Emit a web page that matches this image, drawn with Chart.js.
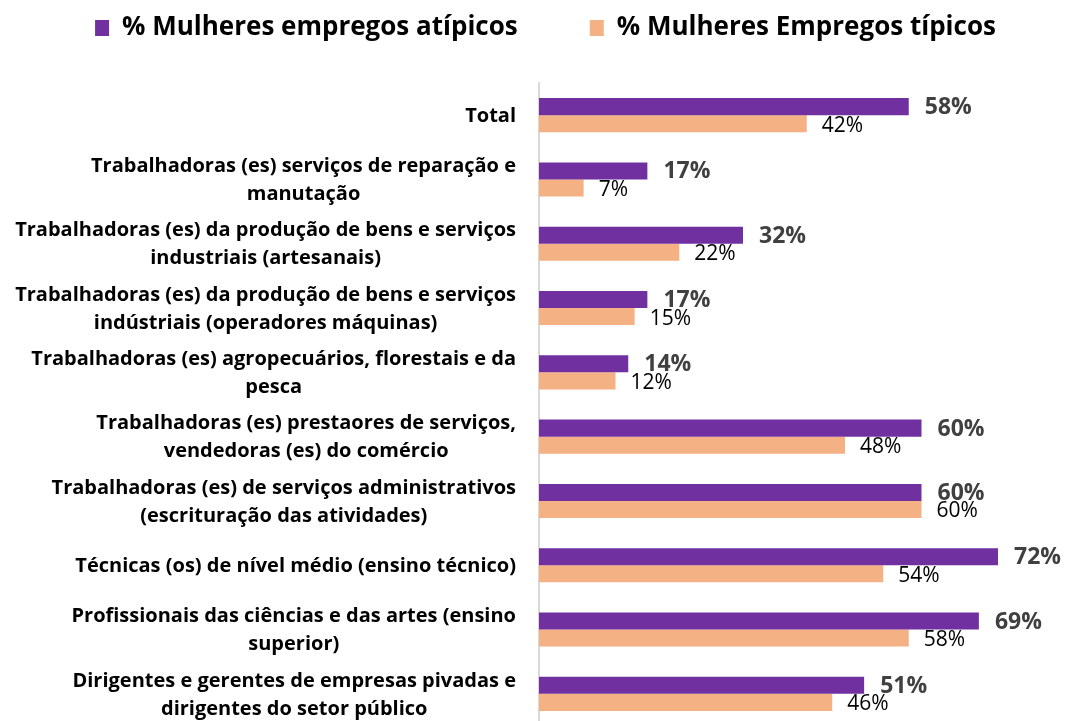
<!DOCTYPE html>
<html lang="pt">
<head>
    <meta charset="UTF-8">
    <title>Mulheres empregos atípicos e típicos</title>
    <script src="https://cdn.jsdelivr.net/npm/chart.js"></script>
    <style>
        html, body { margin: 0; padding: 0; background: #fff; overflow: hidden; }
        #wrap { position: relative; width: 1066px; height: 730px; }
    </style>
</head>
<body>
    <div id="wrap"><canvas id="grafico"></canvas></div>

    <script>
        const categorias = [
            ['Total'],
            ['Trabalhadoras (es) serviços de reparação e', 'manutação'],
            ['Trabalhadoras (es) da produção de bens e serviços', 'industriais (artesanais)'],
            ['Trabalhadoras (es) da produção de bens e serviços', 'indústriais (operadores máquinas)'],
            ['Trabalhadoras (es) agropecuários, florestais e da', 'pesca'],
            ['Trabalhadoras (es) prestaores de serviços,', 'vendedoras (es) do comércio'],
            ['Trabalhadoras (es) de serviços administrativos', '(escrituração das atividades)'],
            ['Técnicas (os) de nível médio (ensino técnico)'],
            ['Profissionais das ciências e das artes (ensino', 'superior)'],
            ['Dirigentes e gerentes de empresas pivadas e', 'dirigentes do setor público']
        ];
        const atipicos = [58, 17, 32, 17, 14, 60, 60, 72, 69, 51];
        const tipicos = [42, 7, 22, 15, 12, 48, 60, 54, 58, 46];

        const fonte = '"Open Sans", sans-serif';

        // espaço extra entre a legenda e as barras, legenda um pouco à direita
        const espacoLegenda = {
            id: 'espacoLegenda',
            beforeInit(chart) {
                const fitOrig = chart.legend.fit;
                chart.legend.fit = function () {
                    fitOrig.call(this);
                    this.height += 32;
                };
            },
            afterLayout(chart) {
                chart.legend.left += 21;
                chart.legend.right += 21;
            }
        };

        // rótulos do eixo: bloco alinhado à direita, linhas centradas entre si
        const rotulosEixo = {
            id: 'rotulosEixo',
            afterDraw(chart) {
                const ctx = chart.ctx;
                const y = chart.scales.y;
                const direita = chart.chartArea.left - 23;
                ctx.save();
                ctx.font = 'bold 20px ' + fonte;
                ctx.fillStyle = '#000';
                ctx.textAlign = 'center';
                ctx.textBaseline = 'middle';
                categorias.forEach((linhas, i) => {
                    const yc = y.getPixelForValue(i);
                    const larg = Math.max(...linhas.map(l => ctx.measureText(l).width));
                    const xc = direita - larg / 2;
                    const alt = 28;
                    linhas.forEach((l, k) => {
                        ctx.fillText(l, xc, yc + 1 + (k - (linhas.length - 1) / 2) * alt);
                    });
                });
                ctx.restore();
            }
        };

        // valores ao lado das barras
        const valores = {
            id: 'valores',
            afterDatasetsDraw(chart) {
                const ctx = chart.ctx;
                ctx.save();
                ctx.textAlign = 'left';
                ctx.textBaseline = 'middle';
                chart.data.datasets.forEach((ds, d) => {
                    const meta = chart.getDatasetMeta(d);
                    meta.data.forEach((bar, i) => {
                        if (d === 0) {
                            ctx.font = 'bold 23px ' + fonte;
                            ctx.fillStyle = '#404040';
                            ctx.fillText(ds.data[i] + '%', bar.x + 16, bar.y + 1);
                        } else {
                            ctx.font = '21px ' + fonte;
                            ctx.fillStyle = '#000';
                            ctx.fillText(ds.data[i] + '%', bar.x + 15, bar.y + 2);
                        }
                    });
                });
                ctx.restore();
            }
        };

        new Chart(document.getElementById('grafico'), {
            type: 'bar',
            data: {
                labels: categorias,
                datasets: [
                    {
                        label: '% Mulheres empregos atípicos',
                        data: atipicos,
                        backgroundColor: '#7030A0'
                    },
                    {
                        label: '% Mulheres Empregos típicos',
                        data: tipicos,
                        backgroundColor: '#F4B183'
                    }
                ]
            },
            options: {
                indexAxis: 'y',
                responsive: true,
                maintainAspectRatio: false,
                animation: false,
                layout: {
                    padding: { left: 0, right: 17, top: -57, bottom: 4 }
                },
                datasets: {
                    bar: { barPercentage: 1, categoryPercentage: 0.53 }
                },
                scales: {
                    x: {
                        display: false,
                        min: 0,
                        max: 80
                    },
                    y: {
                        grid: { display: false },
                        ticks: { display: false },
                        border: { display: true, color: '#d9d9d9', width: 2 },
                        afterFit(scale) { scale.width = 539; }
                    }
                },
                plugins: {
                    tooltip: { enabled: false },
                    legend: {
                        position: 'top',
                        labels: {
                            color: '#000',
                            font: { family: fonte, size: 26, weight: 'bold' },
                            boxWidth: 14,
                            boxHeight: 16,
                            padding: 72
                        }
                    }
                }
            },
            plugins: [espacoLegenda, rotulosEixo, valores]
        });
    </script>
</body>
</html>
